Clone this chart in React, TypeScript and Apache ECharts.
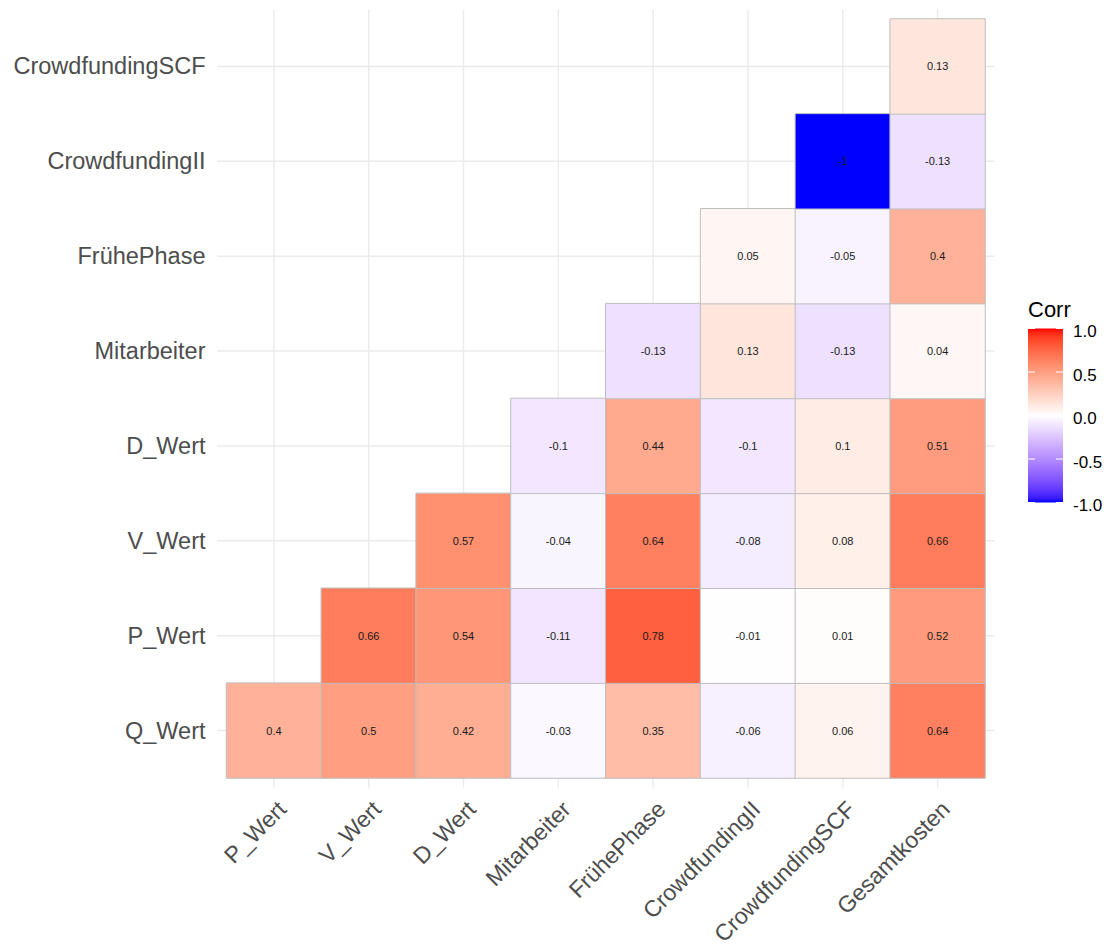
import React, { useEffect, useRef } from "react";
import * as echarts from "echarts";

// Variables on the x axis (left to right) and y axis (bottom to top)
const xCats = [
  "P_Wert",
  "V_Wert",
  "D_Wert",
  "Mitarbeiter",
  "FrühePhase",
  "CrowdfundingII",
  "CrowdfundingSCF",
  "Gesamtkosten",
];
const yCats = [
  "Q_Wert",
  "P_Wert",
  "V_Wert",
  "D_Wert",
  "Mitarbeiter",
  "FrühePhase",
  "CrowdfundingII",
  "CrowdfundingSCF",
];

// Correlation rows, one per y variable, aligned with xCats (null = upper triangle)
const corrQ_Wert = [0.4, 0.5, 0.42, -0.03, 0.35, -0.06, 0.06, 0.64];
const corrP_Wert = [null, 0.66, 0.54, -0.11, 0.78, -0.01, 0.01, 0.52];
const corrV_Wert = [null, null, 0.57, -0.04, 0.64, -0.08, 0.08, 0.66];
const corrD_Wert = [null, null, null, -0.1, 0.44, -0.1, 0.1, 0.51];
const corrMitarbeiter = [null, null, null, null, -0.13, 0.13, -0.13, 0.04];
const corrFruehePhase = [null, null, null, null, null, 0.05, -0.05, 0.4];
const corrCrowdfundingII = [null, null, null, null, null, null, -1, -0.13];
const corrCrowdfundingSCF = [null, null, null, null, null, null, null, 0.13];

const corrRows = [
  corrQ_Wert,
  corrP_Wert,
  corrV_Wert,
  corrD_Wert,
  corrMitarbeiter,
  corrFruehePhase,
  corrCrowdfundingII,
  corrCrowdfundingSCF,
];

// Legend scale
const legendTicks = [1, 0.5, 0, -0.5, -1];
const legendTitle = "Corr";

const FONT = "'Liberation Sans', Arial, Helvetica, sans-serif";

// --- diverging blue-white-red palette interpolated in CIELAB ---
const REF = [0.95047, 1.0, 1.08883];
const toLin = (c: number) => {
  c /= 255;
  return c <= 0.04045 ? c / 12.92 : Math.pow((c + 0.055) / 1.055, 2.4);
};
const fromLin = (c: number) => {
  const v = c <= 0.0031308 ? 12.92 * c : 1.055 * Math.pow(c, 1 / 2.4) - 0.055;
  return Math.round(Math.max(0, Math.min(1, v)) * 255);
};
function rgbToLab(rgb: number[]) {
  const R = toLin(rgb[0]);
  const G = toLin(rgb[1]);
  const B = toLin(rgb[2]);
  const X = (0.4124564 * R + 0.3575761 * G + 0.1804375 * B) / REF[0];
  const Y = (0.2126729 * R + 0.7151522 * G + 0.072175 * B) / REF[1];
  const Z = (0.0193339 * R + 0.119192 * G + 0.9503041 * B) / REF[2];
  const f = (t: number) => (t > 0.008856 ? Math.cbrt(t) : 7.787 * t + 16 / 116);
  const fx = f(X);
  const fy = f(Y);
  const fz = f(Z);
  return [116 * fy - 16, 500 * (fx - fy), 200 * (fy - fz)];
}
function labToRgb(lab: number[]) {
  const fy = (lab[0] + 16) / 116;
  const fx = fy + lab[1] / 500;
  const fz = fy - lab[2] / 200;
  const inv = (t: number) => (t * t * t > 0.008856 ? t * t * t : (t - 16 / 116) / 7.787);
  const X = inv(fx) * REF[0];
  const Y = inv(fy) * REF[1];
  const Z = inv(fz) * REF[2];
  const R = 3.2404542 * X - 1.5371385 * Y - 0.4985314 * Z;
  const G = -0.969266 * X + 1.8760108 * Y + 0.041556 * Z;
  const B = 0.0556434 * X - 0.2040259 * Y + 1.0572252 * Z;
  return `rgb(${fromLin(R)},${fromLin(G)},${fromLin(B)})`;
}
const LAB_LOW = rgbToLab([0, 0, 255]);
const LAB_MID = rgbToLab([255, 255, 255]);
const LAB_HIGH = rgbToLab([255, 0, 0]);
function corrColor(v: number) {
  const end = v < 0 ? LAB_LOW : LAB_HIGH;
  const t = Math.abs(v);
  return labToRgb([0, 1, 2].map((k) => LAB_MID[k] + (end[k] - LAB_MID[k]) * t));
}
const STOP_COUNT = 41;
const paletteStops = Array.from({ length: STOP_COUNT }, (_, i) =>
  corrColor(-1 + (2 * i) / (STOP_COUNT - 1))
);

// Layout of the plotting area (cells region) and legend
const GRID = { left: 226.5, top: 19, width: 758.5, height: 759 };
const BAR = { x: 1028, y: 328.5, w: 35, h: 174 };

export default function App() {
  const ref = useRef<HTMLDivElement>(null);

  useEffect(() => {
    if (!ref.current) return;
    const chart = echarts.init(ref.current, null, { renderer: "svg" });

    const cells: any[] = [];
    corrRows.forEach((row, yi) => {
      row.forEach((v, xi) => {
        if (v !== null) cells.push([xi, yi, v]);
      });
    });

    const vLines = xCats.map((_, i) => [i, 0]);
    const hLines = yCats.map((_, j) => [0, j]);

    const gridStyle = { stroke: "#EBEBEB", lineWidth: 1.4 };

    const barY = (v: number) => BAR.y + ((1 - v) / 2) * BAR.h;

    const legendGraphics: any[] = [
      {
        type: "text",
        left: BAR.x,
        top: 298,
        style: { text: legendTitle, font: `22px ${FONT}`, fill: "#000" },
      },
      {
        type: "rect",
        shape: { x: BAR.x, y: BAR.y, width: BAR.w, height: BAR.h },
        style: {
          fill: new echarts.graphic.LinearGradient(
            0,
            0,
            0,
            1,
            paletteStops
              .slice()
              .reverse()
              .map((c, i) => ({ offset: i / (STOP_COUNT - 1), color: c }))
          ),
        },
      },
    ];
    legendTicks.forEach((v) => {
      const y = barY(v);
      legendGraphics.push(
        {
          type: "line",
          shape: { x1: BAR.x, y1: y, x2: BAR.x + 7, y2: y },
          style: { stroke: "#FFFFFF", lineWidth: 1 },
        },
        {
          type: "line",
          shape: { x1: BAR.x + BAR.w - 7, y1: y, x2: BAR.x + BAR.w, y2: y },
          style: { stroke: "#FFFFFF", lineWidth: 1 },
        },
        {
          type: "text",
          x: BAR.x + BAR.w + 10,
          y: y + 3,
          style: {
            text: v.toFixed(1),
            font: `17px ${FONT}`,
            fill: "#000",
            textVerticalAlign: "middle",
            verticalAlign: "middle",
          },
        }
      );
    });

    chart.setOption({
      animation: false,
      backgroundColor: "#FFFFFF",
      textStyle: { fontFamily: FONT },
      grid: {
        left: GRID.left,
        top: GRID.top,
        width: GRID.width,
        height: GRID.height,
        containLabel: false,
        outerBoundsMode: "none",
      },
      xAxis: {
        type: "category",
        data: xCats,
        axisLine: { show: false },
        axisTick: { show: false },
        splitLine: { show: false },
        axisLabel: {
          interval: 0,
          rotate: 45,
          align: "right",
          verticalAlign: "top",
          margin: 19,
          fontSize: 23,
          color: "#4D4D4D",
          fontFamily: FONT,
        },
      },
      yAxis: {
        type: "category",
        data: yCats,
        axisLine: { show: false },
        axisTick: { show: false },
        splitLine: { show: false },
        axisLabel: {
          interval: 0,
          margin: 21,
          fontSize: 23.5,
          color: "#4D4D4D",
          fontFamily: FONT,
        },
      },
      visualMap: {
        type: "continuous",
        show: false,
        min: -1,
        max: 1,
        dimension: 2,
        seriesIndex: 2,
        inRange: { color: paletteStops },
      },
      series: [
        {
          type: "custom",
          name: "vgrid",
          clip: false,
          silent: true,
          z: 1,
          data: vLines,
          encode: { x: 0, y: 1 },
          renderItem: (params: any, api: any) => {
            const cs = params.coordSys;
            const pad = api.size([1, 1])[1] * 0.1;
            const x = api.coord([api.value(0), 0])[0];
            return {
              type: "line",
              shape: { x1: x, y1: cs.y - pad, x2: x, y2: cs.y + cs.height + pad },
              style: gridStyle,
            };
          },
        },
        {
          type: "custom",
          name: "hgrid",
          clip: false,
          silent: true,
          z: 1,
          data: hLines,
          encode: { x: 0, y: 1 },
          renderItem: (params: any, api: any) => {
            const cs = params.coordSys;
            const pad = api.size([1, 1])[0] * 0.1;
            const y = api.coord([0, api.value(1)])[1];
            return {
              type: "line",
              shape: { x1: cs.x - pad, y1: y, x2: cs.x + cs.width + pad, y2: y },
              style: gridStyle,
            };
          },
        },
        {
          type: "heatmap",
          name: "Corr",
          z: 2,
          data: cells,
          itemStyle: { borderColor: "#BEBEBE", borderWidth: 1 },
          label: {
            show: true,
            fontSize: 11,
            color: "#1A1A1A",
            fontFamily: FONT,
            formatter: (p: any) => String(p.value[2]),
          },
          emphasis: { disabled: true },
        },
      ],
      graphic: legendGraphics,
    });

    return () => chart.dispose();
  }, []);

  return (
    <div
      ref={ref}
      style={{ position: "fixed", left: 0, top: 0, width: "1108px", height: "952px" }}
    />
  );
}
